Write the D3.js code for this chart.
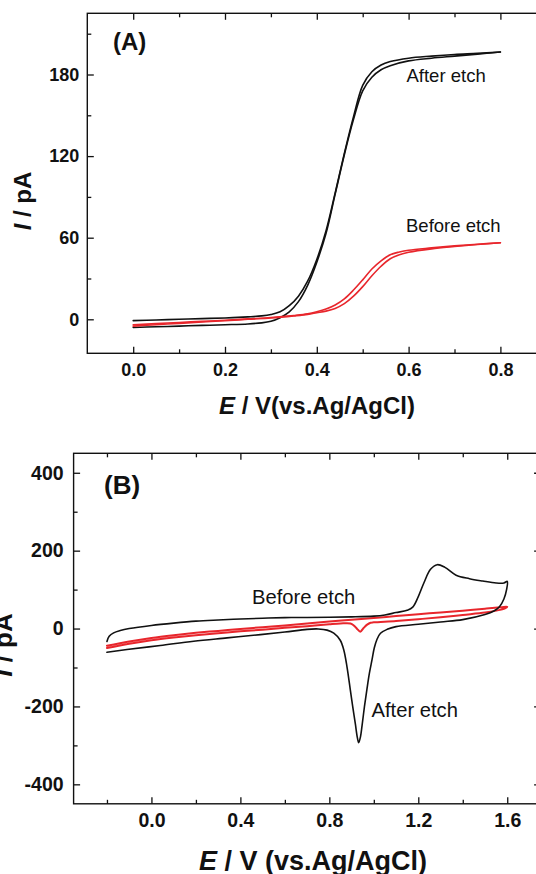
<!DOCTYPE html>
<html>
<head>
<meta charset="utf-8">
<script src="https://cdn.jsdelivr.net/npm/d3@7"></script>
<style>
  html, body { margin: 0; padding: 0; background: #fff; }
  svg { display: block; }
</style>
</head>
<body>
<script>
// ---------------- DATA ----------------
// Panel A: steady-state voltammograms (E in V, I in pA)
const aXTicks = [0, 0.2, 0.4, 0.6, 0.8];
const aXMinor = [0.1, 0.3, 0.5, 0.7];
const aYTicks = [0, 60, 120, 180];
const aYMinor = [30, 90, 150, 210];

const aAfterScan1 = [[0,-1],[0.05,-0.5],[0.1,0],[0.15,0.5],[0.2,1],[0.25,1.8],[0.28,2.5],[0.3,3.5],[0.32,5.5],[0.34,10],[0.36,17],[0.38,28],[0.4,44],[0.42,65],[0.44,93],[0.46,122],[0.48,149],[0.5,172],[0.52,182],[0.54,187],[0.56,189.5],[0.6,192],[0.65,193.5],[0.7,194.7],[0.75,195.5],[0.8,196.5]];
const aAfterScan2 = [[0,-6],[0.05,-5.5],[0.1,-5],[0.15,-4.5],[0.2,-4],[0.25,-3.4],[0.28,-2.6],[0.3,-1.4],[0.32,1.2],[0.34,5.5],[0.36,13],[0.38,25],[0.4,42],[0.42,63],[0.44,92],[0.46,121],[0.48,147],[0.5,168],[0.52,178],[0.54,183.5],[0.56,186.5],[0.6,190],[0.65,192],[0.7,193.5],[0.75,195],[0.8,196.5]];
const aBeforeScan1 = [[0,-4],[0.05,-3.2],[0.1,-2.3],[0.15,-1.5],[0.2,-0.7],[0.25,0.3],[0.3,1.3],[0.35,2.8],[0.38,4],[0.4,5.5],[0.42,7.5],[0.44,10.5],[0.46,15],[0.48,21.5],[0.5,29],[0.52,37],[0.54,43],[0.56,47.5],[0.58,49.5],[0.6,50.8],[0.65,52.5],[0.7,54],[0.75,55.2],[0.8,56.3]];
const aBeforeScan2 = [[0,-5],[0.05,-4],[0.1,-3],[0.15,-2],[0.2,-1.1],[0.25,0],[0.3,1],[0.35,2.5],[0.38,3.6],[0.4,4.8],[0.42,6],[0.44,8],[0.46,11.5],[0.48,17],[0.5,24],[0.52,32],[0.54,39],[0.56,44.5],[0.58,47.5],[0.6,49.3],[0.65,51.8],[0.7,53.5],[0.75,55],[0.8,56.3]];

// Panel B: cyclic voltammograms
const bXTicks = [0, 0.4, 0.8, 1.2, 1.6];
const bXMinor = [-0.2, 0.2, 0.6, 1.0, 1.4];
const bYTicks = [-400, -200, 0, 200, 400];
const bYMinor = [-300, -100, 100, 300];

const bAfterFwd = [[-0.2,-33],[-0.19,-20],[-0.17,-11],[-0.14,-5],[-0.1,0],[0,8],[0.1,14],[0.2,19],[0.3,22],[0.4,24.5],[0.5,26.5],[0.6,28],[0.7,28.5],[0.8,29],[0.9,30],[1.0,32],[1.05,35],[1.1,41],[1.15,47],[1.175,55],[1.2,82],[1.225,117],[1.255,152],[1.285,164],[1.32,157],[1.37,137],[1.43,128],[1.49,122],[1.55,117],[1.585,117],[1.6,121]];
const bAfterRev = [[1.6,121],[1.597,100],[1.585,76],[1.565,56],[1.54,45],[1.5,36],[1.4,23],[1.3,17],[1.2,11],[1.1,5],[1.06,-2],[1.03,-12],[1.014,-28],[1.002,-50],[0.992,-80],[0.98,-115],[0.969,-156],[0.958,-200],[0.947,-250],[0.94,-278],[0.932,-293],[0.926,-280],[0.917,-245],[0.905,-200],[0.894,-156],[0.879,-97],[0.865,-55],[0.849,-30],[0.82,-12],[0.79,-4],[0.75,-1],[0.7,-2],[0.6,-9],[0.49,-15.5],[0.34,-24],[0.19,-32.5],[0.04,-43.5],[-0.11,-54],[-0.2,-61]];
const bBeforeFwd = [[-0.2,-44],[-0.1,-33],[0,-24],[0.1,-17],[0.2,-11],[0.3,-6],[0.4,-1],[0.5,3.5],[0.6,8],[0.7,13],[0.8,18],[0.9,22.5],[1.0,27],[1.1,32],[1.2,37],[1.3,41],[1.4,46],[1.5,51],[1.57,54.5],[1.6,56]];
const bBeforeRev = [[1.6,56],[1.59,52],[1.55,46],[1.5,41],[1.4,35],[1.3,29],[1.2,24],[1.1,19.5],[1.0,16],[0.985,15],[0.97,10],[0.955,2],[0.939,-8],[0.925,-1],[0.91,8],[0.895,13],[0.85,13],[0.8,11],[0.7,6],[0.6,2],[0.5,-3],[0.4,-7],[0.3,-12],[0.2,-17],[0.1,-23],[0,-30],[-0.1,-39],[-0.2,-50]];

// ---------------- DRAW ----------------
const W = 536, H = 874;
const FONT = "'Liberation Sans', Arial, Helvetica, sans-serif";
const BLACK = "#111", RED = "#e8262c";

const svg = d3.select("body").append("svg")
  .attr("width", W).attr("height", H)
  .attr("font-family", FONT);
svg.append("rect").attr("width", W).attr("height", H).attr("fill", "#fff");

function panel(cfg) {
  const g = svg.append("g");
  const x = d3.scaleLinear().domain(cfg.xDomain).range([cfg.left, cfg.right]);
  const y = d3.scaleLinear().domain(cfg.yDomain).range([cfg.bottom, cfg.top]);

  const styleAxis = sel => {
    sel.select(".domain").remove();
    sel.selectAll("line").attr("stroke", BLACK).attr("stroke-width", 1.3);
    sel.selectAll("text").attr("fill", BLACK).attr("font-weight", "bold")
      .attr("font-size", cfg.tickFont).attr("font-family", FONT);
  };
  // bottom
  g.append("g").attr("transform", `translate(0,${cfg.bottom})`)
    .call(d3.axisBottom(x).tickValues(cfg.xTicks).tickSize(-6.5).tickPadding(cfg.xPad).tickFormat(cfg.xFmt))
    .call(styleAxis);
  g.append("g").attr("transform", `translate(0,${cfg.bottom})`)
    .call(d3.axisBottom(x).tickValues(cfg.xMinor).tickSize(-4).tickFormat(""))
    .call(styleAxis);
  // top
  g.append("g").attr("transform", `translate(0,${cfg.top})`)
    .call(d3.axisTop(x).tickValues(cfg.xTicks).tickSize(-6.5).tickFormat(""))
    .call(styleAxis);
  g.append("g").attr("transform", `translate(0,${cfg.top})`)
    .call(d3.axisTop(x).tickValues(cfg.xMinor).tickSize(-4).tickFormat(""))
    .call(styleAxis);
  // left
  g.append("g").attr("transform", `translate(${cfg.left},0)`)
    .call(d3.axisLeft(y).tickValues(cfg.yTicks).tickSize(-6.5).tickPadding(cfg.yPad).tickFormat(d => String(d)))
    .call(styleAxis);
  g.append("g").attr("transform", `translate(${cfg.left},0)`)
    .call(d3.axisLeft(y).tickValues(cfg.yMinor).tickSize(-4).tickFormat(""))
    .call(styleAxis);
  // right
  g.append("g").attr("transform", `translate(${cfg.right},0)`)
    .call(d3.axisRight(y).tickValues(cfg.yTicks).tickSize(-6.5).tickFormat(""))
    .call(styleAxis);

  // frame
  g.append("rect").attr("x", cfg.left).attr("y", cfg.top)
    .attr("width", cfg.right - cfg.left).attr("height", cfg.bottom - cfg.top)
    .attr("fill", "none").attr("stroke", BLACK).attr("stroke-width", 1.4);

  const line = d3.line().x(d => x(d[0])).y(d => y(d[1])).curve(d3.curveCatmullRom.alpha(0.5));
  cfg.series.forEach(s => {
    g.append("path").attr("d", line(s.data)).attr("fill", "none")
      .attr("stroke", s.color).attr("stroke-width", s.width)
      .attr("stroke-linejoin", "round").attr("stroke-linecap", "round");
  });

  // labels
  cfg.labels.forEach(l => {
    g.append("text").attr("x", l.x).attr("y", l.y).attr("font-size", l.size)
      .attr("font-weight", l.bold ? "bold" : "normal").attr("fill", BLACK)
      .text(l.text);
  });

  // x title
  const xt = g.append("text").attr("x", cfg.xTitle.x).attr("y", cfg.xTitle.y)
    .attr("text-anchor", "middle").attr("font-size", cfg.xTitle.size)
    .attr("font-weight", "bold").attr("fill", BLACK);
  xt.append("tspan").attr("font-style", "italic").text("E");
  xt.append("tspan").text(cfg.xTitle.rest);

  // y title
  const yt = g.append("text")
    .attr("transform", `translate(${cfg.yTitle.x},${cfg.yTitle.y}) rotate(-90)`)
    .attr("text-anchor", "middle").attr("font-size", cfg.yTitle.size)
    .attr("font-weight", "bold").attr("fill", BLACK);
  yt.append("tspan").attr("font-style", "italic").text("I");
  yt.append("tspan").text(" / pA");
}

panel({
  xDomain: [-0.1, 0.9], yDomain: [-25, 225],
  left: 87.3, right: 546.3, top: 13.3, bottom: 353.3,
  xTicks: aXTicks, xMinor: aXMinor, yTicks: aYTicks, yMinor: aYMinor,
  xFmt: d3.format(".1f"), tickFont: 18, xPad: 9.5, yPad: 8,
  series: [
    { data: aAfterScan1, color: BLACK, width: 1.6 },
    { data: aAfterScan2, color: BLACK, width: 1.6 },
    { data: aBeforeScan1, color: RED, width: 1.6 },
    { data: aBeforeScan2, color: RED, width: 1.6 }
  ],
  labels: [
    { text: "(A)", x: 113, y: 50, size: 24, bold: true },
    { text: "After etch", x: 406.5, y: 81.5, size: 18.5 },
    { text: "Before etch", x: 406, y: 231.5, size: 18.5 }
  ],
  xTitle: { x: 317, y: 413.5, size: 24, rest: " / V(vs.Ag/AgCl)" },
  yTitle: { x: 31, y: 201, size: 24 }
});

panel({
  xDomain: [-0.35, 1.75], yDomain: [-450, 450],
  left: 73.6, right: 540.6, top: 453.3, bottom: 803.8,
  xTicks: bXTicks, xMinor: bXMinor, yTicks: bYTicks, yMinor: bYMinor,
  xFmt: d3.format(".1f"), tickFont: 19.5, xPad: 9.5, yPad: 10,
  series: [
    { data: bBeforeFwd.concat(bBeforeRev.slice(1)), color: RED, width: 2 },
    { data: bAfterFwd.concat(bAfterRev.slice(1)), color: BLACK, width: 1.6 }
  ],
  labels: [
    { text: "(B)", x: 104, y: 493.5, size: 26, bold: true },
    { text: "Before etch", x: 252, y: 603.5, size: 20.2 },
    { text: "After etch", x: 371.5, y: 717, size: 20.2 }
  ],
  xTitle: { x: 313, y: 869.5, size: 27, rest: " / V (vs.Ag/AgCl)" },
  yTitle: { x: 12, y: 645, size: 26 }
});
</script>
</body>
</html>
